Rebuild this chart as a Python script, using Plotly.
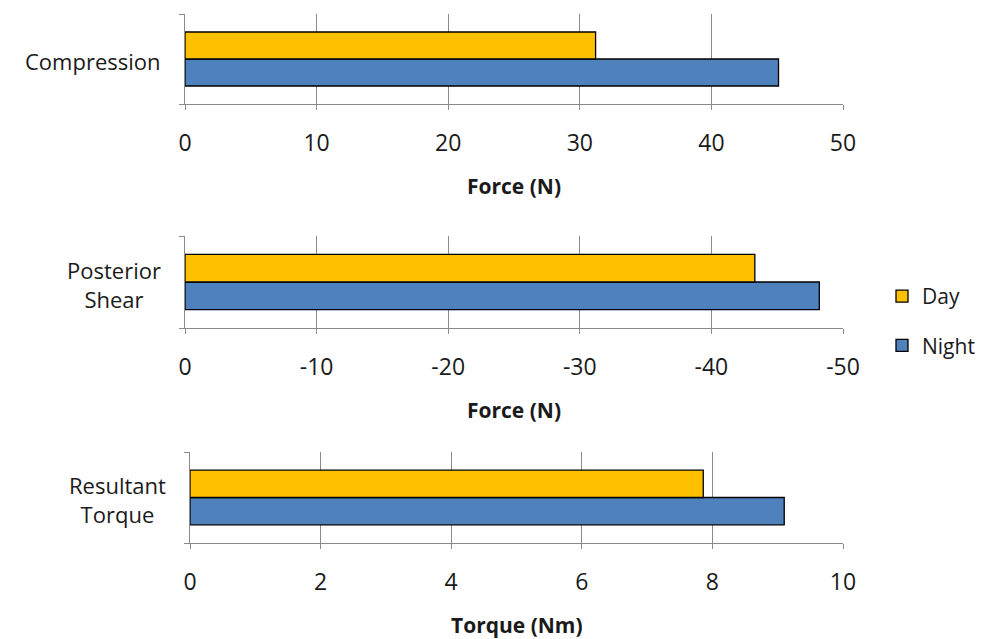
import plotly.graph_objects as go

categories = ["Compression", "Posterior<br>Shear", "Resultant<br>Torque"]
day_values = [31.2, -43.3, 7.86]
night_values = [45.1, -48.2, 9.10]
axis_titles = ["Force (N)", "Force (N)", "Torque (Nm)"]
x_ranges = [[0, 50], [0, -50], [0, 10]]
tick_values = [[0, 10, 20, 30, 40, 50], [0, -10, -20, -30, -40, -50], [0, 2, 4, 6, 8, 10]]
tick_labels = [["0", "10", "20", "30", "40", "50"],
               ["0", "-10", "-20", "-30", "-40", "-50"],
               ["0", "2", "4", "6", "8", "10"]]
series_names = ["Day", "Night"]

DAY_COLOR = "#FFC000"
NIGHT_COLOR = "#4F81BD"
GRID = "#8a8a8a"
TXT = "#1a1a1a"
FONT = "Open Sans"
OFF = 8                      # page body margin
FW, FH = 989 - OFF, 639 - OFF


def px(x):
    return (x - OFF) / FW


def py(y):
    return 1 - (y - OFF) / FH


# panel pixel geometry in the reference (left, right, top, bottom)
panels = [(185, 843, 14, 104), (185, 843, 236, 328), (190, 843, 452, 543)]

fig = go.Figure()
for i, cat in enumerate(categories):
    n = "" if i == 0 else str(i + 1)
    fig.add_trace(go.Bar(
        y=[cat], x=[night_values[i]], orientation="h", name=series_names[1],
        marker=dict(color=NIGHT_COLOR, line=dict(color="black", width=1.3)),
        xaxis="x" + n, yaxis="y" + n, showlegend=(i == 0),
        legendgroup="night", legendrank=2))
    fig.add_trace(go.Bar(
        y=[cat], x=[day_values[i]], orientation="h", name=series_names[0],
        marker=dict(color=DAY_COLOR, line=dict(color="black", width=1.3)),
        xaxis="x" + n, yaxis="y" + n, showlegend=(i == 0),
        legendgroup="day", legendrank=1))

layout = dict(
    width=FW, height=FH, margin=dict(l=0, r=0, t=0, b=0, autoexpand=False),
    plot_bgcolor="white", paper_bgcolor="white",
    barmode="group", bargap=0.4, bargroupgap=0,
    font=dict(family=FONT, size=21, color=TXT),
    legend=dict(x=px(882), y=py(276), xanchor="left", yanchor="top",
                tracegroupgap=19, font=dict(size=21, color=TXT), itemwidth=30,
                bgcolor="rgba(0,0,0,0)"),
    annotations=[],
)
for i, (l, r, t, b) in enumerate(panels):
    n = "" if i == 0 else str(i + 1)
    layout["xaxis" + n] = dict(
        domain=[px(l), px(r)], anchor="y" + n, range=x_ranges[i],
        tickmode="array", tickvals=tick_values[i], ticktext=tick_labels[i],
        showgrid=True, gridcolor=GRID, gridwidth=1,
        showline=True, linecolor=GRID, linewidth=1,
        ticks="outside", ticklen=5, tickcolor=GRID,
        zeroline=False, ticklabelstandoff=13, automargin=False,
        tickfont=dict(size=23, color=TXT),
    )
    layout["yaxis" + n] = dict(
        domain=[py(b), py(t)], anchor="x" + n,
        range=[-0.5, 0.5], showticklabels=False, automargin=False,
        showline=True, linecolor=GRID, linewidth=1,
        ticks="outside", ticklen=5, tickcolor=GRID, tickson="boundaries",
        showgrid=False, fixedrange=True,
    )
    layout["annotations"].append(dict(
        text="<b>" + axis_titles[i] + "</b>", xref="paper", yref="paper",
        x=px((l + r) / 2), y=py(b + 82), xanchor="center", yanchor="middle",
        showarrow=False, font=dict(size=21, color=TXT)))
    layout["annotations"].append(dict(
        text=categories[i], xref="paper", yref="paper", align="center",
        x=px(l - 22), y=py((t + b) / 2 + 2), xanchor="right", yanchor="middle",
        showarrow=False, font=dict(size=22, color=TXT)))

fig.update_layout(**layout)
fig.write_html("out.html")
